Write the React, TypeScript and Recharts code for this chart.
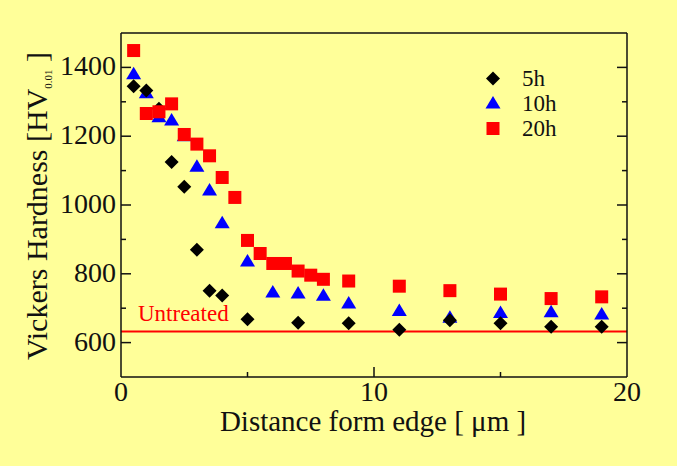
import { ScatterChart, Scatter, XAxis, YAxis, ReferenceLine, Legend } from 'recharts';

// distance from edge [um] and hardness [HV0.01]
const dist5h = [0.5, 1, 1.5, 2, 2.5, 3, 3.5, 4, 5, 7, 9, 11, 13, 15, 17, 19];
const hv5h = [1345, 1333, 1280, 1125, 1053, 870, 751, 737, 668, 658, 656, 637, 665, 656, 646, 646];

const dist10h = [0.5, 1, 1.5, 2, 2.5, 3, 3.5, 4, 5, 6, 7, 8, 9, 11, 13, 15, 17, 19];
const hv10h = [1380, 1325, 1255, 1246, 1200, 1111, 1042, 947, 836, 746, 743, 736, 714, 692, 672, 686, 688, 682];

const dist20h = [0.5, 1, 1.5, 2, 2.5, 3, 3.5, 4, 4.5, 5, 5.5, 6, 6.5, 7, 7.5, 8, 9, 11, 13, 15, 17, 19];
const hv20h = [1449, 1266, 1271, 1294, 1205, 1177, 1143, 1080, 1022, 897, 859, 830, 830, 808, 796, 784, 779, 764, 751, 741, 728, 733];

const untreatedHV = 632;

const xTicks = [5, 10, 15];
const xLabelTicks = [0, 5, 10, 15, 20];
const xLabeled = [0, 10, 20];
const yTicks = [600, 700, 800, 900, 1000, 1100, 1200, 1300, 1400];
const yLabeled = [600, 800, 1000, 1200, 1400];

const SERIF = '"Liberation Serif", "DejaVu Serif", serif';
const BG = '#FFFF99';
const INK = '#111';
const MAJOR = 10;
const MINOR = 5;

type Shape = 'diamond' | 'triangle' | 'square';

const series: { name: string; color: string; shape: Shape; dist: number[]; hv: number[] }[] = [
  { name: '10h', color: '#0000FF', shape: 'triangle', dist: dist10h, hv: hv10h },
  { name: '5h', color: '#000000', shape: 'diamond', dist: dist5h, hv: hv5h },
  { name: '20h', color: '#FF0000', shape: 'square', dist: dist20h, hv: hv20h },
];
const legendOrder = ['5h', '10h', '20h'];

function Marker({ cx, cy, shape, color }: { cx: number; cy: number; shape: Shape; color: string }) {
  if (cx == null || cy == null) return null;
  if (shape === 'diamond') {
    return <polygon points={`${cx},${cy - 7} ${cx + 7},${cy} ${cx},${cy + 7} ${cx - 7},${cy}`} fill={color} />;
  }
  if (shape === 'triangle') {
    return <polygon points={`${cx},${cy - 7.5} ${cx + 7.5},${cy + 5} ${cx - 7.5},${cy + 5}`} fill={color} />;
  }
  return <rect x={cx - 6.5} y={cy - 6.5} width={13} height={13} fill={color} />;
}

const BottomTick = ({ x, y, payload }: any) => {
  const v = payload.value;
  const len = xLabeled.includes(v) ? MAJOR : MINOR;
  return (
    <g>
      {v > 0 && v < 20 && <line x1={x} x2={x} y1={y} y2={y - len} stroke={INK} strokeWidth={1.5} />}
      {xLabeled.includes(v) && (
        <text x={x} y={y + 24} textAnchor="middle" fontFamily={SERIF} fontSize={28} fill={INK}>
          {v}
        </text>
      )}
    </g>
  );
};

const TopTick = ({ x, y, payload }: any) => {
  const len = xLabeled.includes(payload.value) ? MAJOR : MINOR;
  return <line x1={x} x2={x} y1={y} y2={y + len} stroke={INK} strokeWidth={1.5} />;
};

const LeftTick = ({ x, y, payload }: any) => {
  const v = payload.value;
  const major = yLabeled.includes(v);
  return (
    <g>
      <line x1={x} x2={x + (major ? MAJOR : MINOR)} y1={y} y2={y} stroke={INK} strokeWidth={1.5} />
      {major && (
        <text x={x - 5} y={y + 8} textAnchor="end" fontFamily={SERIF} fontSize={28} fill={INK}>
          {v}
        </text>
      )}
    </g>
  );
};

const RightTick = ({ x, y, payload }: any) => {
  const len = yLabeled.includes(payload.value) ? MAJOR : MINOR;
  return <line x1={x} x2={x - len} y1={y} y2={y} stroke={INK} strokeWidth={1.5} />;
};

const XTitle = () => (
  <text x={373} y={431} textAnchor="middle" fontFamily={SERIF} fontSize={29} fill={INK}>
    Distance form edge [ μm ]
  </text>
);

const YTitle = () => (
  <text
    x={47}
    y={206}
    transform="rotate(-90 47 206)"
    textAnchor="middle"
    fontFamily={SERIF}
    fontSize={30}
    fill={INK}
  >
    Vickers Hardness [HV
    <tspan fontSize={11} dy={5}>0.01</tspan>
    <tspan dy={-5}> ]</tspan>
  </text>
);

const UntreatedLabel = ({ viewBox }: any) => {
  if (!viewBox) return null;
  return (
    <text x={viewBox.x + 17} y={viewBox.y - 11} fontFamily={SERIF} fontSize={23} fill="#FF0000">
      Untreated
    </text>
  );
};

const renderLegend = () => (
  <div style={{ fontFamily: SERIF, fontSize: 23, color: INK }}>
    {legendOrder.map((n) => {
      const s = series.find((d) => d.name === n)!;
      return (
        <div key={n} style={{ display: 'flex', alignItems: 'center', height: 25 }}>
          <svg width={24} height={25}>
            <Marker cx={12} cy={12.5} shape={s.shape} color={s.color} />
          </svg>
          <span style={{ marginLeft: 17, lineHeight: '25px' }}>{n}</span>
        </div>
      );
    })}
  </div>
);

export default function App() {
  return (
    <div style={{ position: 'absolute', left: 0, top: 0, width: 677, height: 466, background: BG }}>
      <ScatterChart width={677} height={466} margin={{ top: 32, right: 49, bottom: 0, left: 0 }}>
        <XAxis
          type="number"
          dataKey="x"
          domain={[0, 20]}
          allowDataOverflow
          ticks={xLabelTicks}
          interval={0}
          height={89}
          tickSize={0}
          tickMargin={0}
          tickLine={false}
          axisLine={{ stroke: INK, strokeWidth: 1.5 }}
          tick={<BottomTick />}
          label={<XTitle />}
        />
        <XAxis
          xAxisId="top"
          orientation="top"
          type="number"
          domain={[0, 20]}
          allowDataOverflow
          ticks={xTicks}
          interval={0}
          height={1}
          tickSize={0}
          tickMargin={0}
          tickLine={false}
          axisLine={{ stroke: INK, strokeWidth: 1.5 }}
          tick={<TopTick />}
        />
        <YAxis
          type="number"
          dataKey="hv"
          domain={[500, 1500]}
          allowDataOverflow
          ticks={yTicks}
          interval={0}
          width={121}
          tickSize={0}
          tickMargin={0}
          tickLine={false}
          axisLine={{ stroke: INK, strokeWidth: 1.5 }}
          tick={<LeftTick />}
          label={<YTitle />}
        />
        <YAxis
          yAxisId="right"
          orientation="right"
          type="number"
          domain={[500, 1500]}
          allowDataOverflow
          ticks={yTicks}
          interval={0}
          width={1}
          tickSize={0}
          tickMargin={0}
          tickLine={false}
          axisLine={{ stroke: INK, strokeWidth: 1.5 }}
          tick={<RightTick />}
        />
        <ReferenceLine y={untreatedHV} stroke="#FF0000" strokeWidth={2} label={<UntreatedLabel />} />
        {series.map((s) => (
          <Scatter
            key={s.name}
            name={s.name}
            data={s.dist.map((d, i) => ({ x: d, hv: s.hv[i] }))}
            fill={s.color}
            isAnimationActive={false}
            shape={(p: any) => <Marker cx={p.cx} cy={p.cy} shape={s.shape} color={s.color} />}
          />
        ))}
        <Legend
          layout="vertical"
          align="center"
          verticalAlign="middle"
          content={renderLegend}
          wrapperStyle={{ left: 481, top: 66, width: 'auto' }}
        />
      </ScatterChart>
    </div>
  );
}
